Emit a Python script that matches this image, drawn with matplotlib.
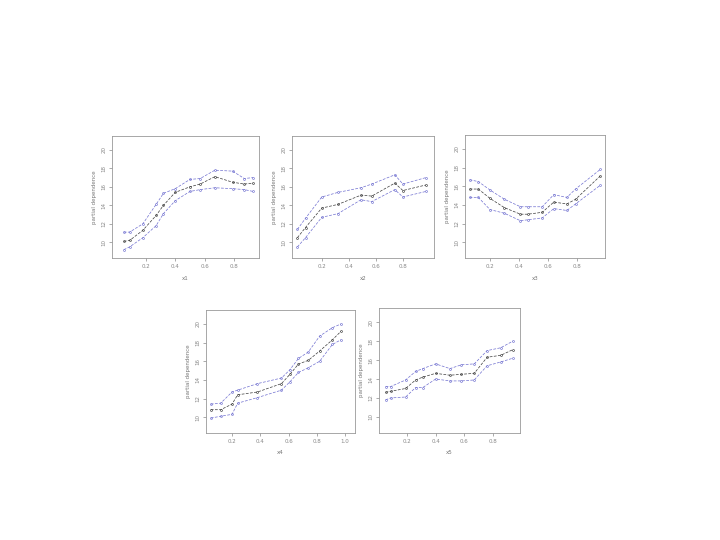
import matplotlib.pyplot as plt

# partial dependence curves (upper band, estimate, lower band)
x1 = [0.05, 0.09, 0.18, 0.27, 0.32, 0.40, 0.50, 0.57, 0.67, 0.79, 0.87, 0.93]
x1_up = [11.1, 11.1, 12.0, 14.1, 15.3, 15.8, 16.8, 16.9, 17.8, 17.7, 16.9, 17.0]
x1_mid = [10.1, 10.2, 11.3, 12.9, 14.0, 15.4, 16.0, 16.3, 17.1, 16.5, 16.3, 16.4]
x1_low = [9.2, 9.5, 10.5, 11.8, 13.1, 14.5, 15.5, 15.7, 15.9, 15.8, 15.7, 15.5]

x2 = [0.02, 0.08, 0.20, 0.32, 0.49, 0.57, 0.74, 0.80, 0.97]
x2_up = [11.4, 12.6, 14.9, 15.4, 15.9, 16.3, 17.3, 16.3, 17.0]
x2_mid = [10.5, 11.6, 13.7, 14.1, 15.1, 15.0, 16.4, 15.6, 16.2]
x2_low = [9.5, 10.5, 12.7, 13.1, 14.6, 14.4, 15.7, 14.9, 15.5]

x3 = [0.06, 0.12, 0.20, 0.30, 0.41, 0.46, 0.56, 0.64, 0.73, 0.79, 0.96]
x3_up = [16.7, 16.5, 15.6, 14.6, 13.8, 13.8, 13.8, 15.1, 14.8, 15.7, 17.8]
x3_mid = [15.7, 15.7, 14.7, 13.7, 13.0, 13.0, 13.2, 14.3, 14.1, 14.6, 17.1]
x3_low = [14.8, 14.8, 13.5, 13.1, 12.3, 12.4, 12.6, 13.6, 13.4, 14.1, 16.1]

x4 = [0.05, 0.12, 0.20, 0.24, 0.38, 0.55, 0.61, 0.67, 0.74, 0.82, 0.91, 0.97]
x4_up = [11.4, 11.5, 12.7, 12.9, 13.6, 14.2, 15.1, 16.3, 17.0, 18.7, 19.6, 20.0]
x4_mid = [10.8, 10.8, 11.4, 12.4, 12.7, 13.6, 14.6, 15.7, 16.1, 17.1, 18.3, 19.2]
x4_low = [9.9, 10.1, 10.3, 11.5, 12.1, 12.9, 13.8, 14.8, 15.3, 16.0, 17.8, 18.3]

x5 = [0.05, 0.085, 0.19, 0.26, 0.31, 0.40, 0.50, 0.58, 0.67, 0.76, 0.855, 0.94]
x5_up = [13.2, 13.2, 13.9, 14.8, 15.1, 15.6, 15.1, 15.5, 15.6, 17.0, 17.3, 18.0]
x5_mid = [12.6, 12.7, 13.0, 13.9, 14.2, 14.6, 14.4, 14.5, 14.6, 16.3, 16.5, 17.1]
x5_low = [11.8, 12.0, 12.1, 13.1, 13.1, 14.0, 13.8, 13.8, 13.9, 15.4, 15.8, 16.2]

names = ['x1', 'x2', 'x3', 'x4', 'x5']
xs = [x1, x2, x3, x4, x5]
ups = [x1_up, x2_up, x3_up, x4_up, x5_up]
mids = [x1_mid, x2_mid, x3_mid, x4_mid, x5_mid]
lows = [x1_low, x2_low, x3_low, x4_low, x5_low]

# panel boxes in pixels: left, top, right, bottom
boxes = [(112, 136, 259, 258), (292, 136, 434, 258), (465, 135, 605, 258),
         (206, 310, 355, 433), (379, 308, 520, 433)]
xlims = [(-0.03, 0.97), (-0.02, 1.03), (0.028, 0.993), (0.016, 1.07), (0.004, 0.99)]

W, H = 720, 540
fig = plt.figure(figsize=(7.2, 5.4), dpi=100)
fig.patch.set_facecolor('white')

blue = '#7070d0'
txt = '#777777'

for i in range(5):
    l, t, r, b = boxes[i]
    ax = fig.add_axes([l / W, 1 - b / H, (r - l) / W, (b - t) / H])
    for ys, col in [(ups[i], blue), (mids[i], '#3a3a3a'), (lows[i], blue)]:
        ax.plot(xs[i], ys, color=col, linewidth=0.5, linestyle=(0, (4, 2)),
                marker='o', markersize=1.4, markerfacecolor='none',
                markeredgewidth=0.45)
    ax.set_xlim(*xlims[i])
    ax.set_ylim(8.3, 21.5)
    ax.set_yticks([10, 12, 14, 16, 18, 20])
    ticks = [0.2, 0.4, 0.6, 0.8] + ([1.0] if i == 3 else [])
    ax.set_xticks(ticks)
    ax.set_xticklabels([f'{v:.1f}' for v in ticks], fontsize=4, color=txt)
    ax.set_yticklabels(['10', '12', '14', '16', '18', '20'], fontsize=4,
                       color=txt, rotation=90, va='center')
    ax.tick_params(length=2, width=0.5, colors='#888888', pad=2)
    for s in ax.spines.values():
        s.set_color('#999999')
        s.set_linewidth(0.6)
    ax.set_xlabel(names[i], fontsize=4, color=txt, labelpad=5)
    ax.set_ylabel('partial dependence', fontsize=4, color=txt, labelpad=3)

fig.savefig('out.png', dpi=100, facecolor='white')
